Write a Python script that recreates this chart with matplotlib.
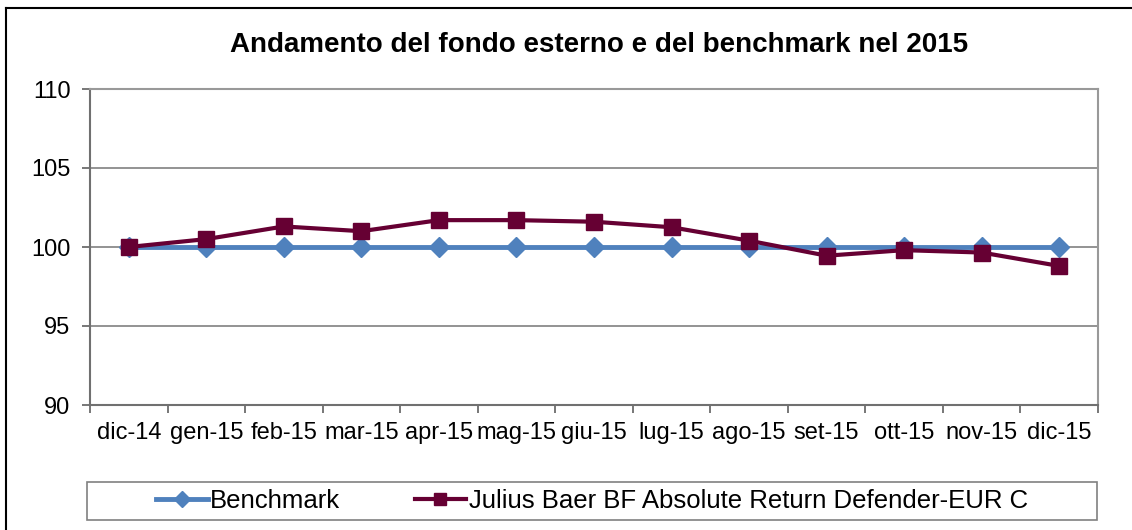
import numpy as np
import matplotlib.pyplot as plt
from matplotlib.lines import Line2D
from matplotlib.patches import Rectangle

plt.rcParams['font.family'] = ['Liberation Sans', 'DejaVu Sans']

months = ['dic-14', 'gen-15', 'feb-15', 'mar-15', 'apr-15', 'mag-15', 'giu-15',
          'lug-15', 'ago-15', 'set-15', 'ott-15', 'nov-15', 'dic-15']
benchmark = [100, 100, 100, 100, 100, 100, 100, 100, 100, 100, 100, 100, 100]
fondo = [100, 100.5, 101.3, 101.0, 101.7, 101.7, 101.6, 101.25, 100.4,
         99.45, 99.8, 99.65, 98.8]

W, H = 1132, 530
fig = plt.figure(figsize=(W / 100, H / 100), dpi=100)
ax = fig.add_axes([90 / W, 1 - 405 / H, (1098 - 90) / W, (405 - 89) / H])

x = np.arange(len(months))
ax.plot(x, benchmark, color='#4F81BD', lw=3.5, marker='D', ms=10,
        label='Benchmark', zorder=3)
ax.plot(x, fondo, color='#660033', lw=3, marker='s', ms=11,
        label='Julius Baer BF Absolute Return Defender-EUR C', zorder=4)

ax.set_xlim(-0.5, len(months) - 0.5)
ax.set_ylim(90, 110)
ax.set_yticks([90, 95, 100, 105, 110])
ax.set_xticks(x)
ax.set_xticklabels(months)
ax.set_xticks(np.arange(len(months) + 1) - 0.5, minor=True)
ax.tick_params(axis='x', which='major', length=0, labelsize=17, pad=12)
ax.tick_params(axis='x', which='minor', length=6, width=1.2, color='#606060', direction='out')
ax.tick_params(axis='y', length=6, width=1.2, color='#606060', labelsize=17, pad=8)
ax.yaxis.grid(True, color='#808080', lw=1.2)
ax.set_axisbelow(True)
for s in ['top', 'right']:
    ax.spines[s].set_color('#999999')
    ax.spines[s].set_linewidth(1.5)
for s in ['left', 'bottom']:
    ax.spines[s].set_color('#707070')
    ax.spines[s].set_linewidth(1.5)

fig.text(599 / W, 1 - 45 / H, 'Andamento del fondo esterno e del benchmark nel 2015',
         ha='center', va='center', fontsize=20, fontweight='bold')

# legend box
fig.add_artist(Rectangle((87 / W, 1 - 520 / H), (1097 - 87) / W, 38 / H,
                         transform=fig.transFigure, fill=False,
                         edgecolor='#808080', lw=1.2))
leg = fig.legend(loc='center', bbox_to_anchor=(592 / W, 1 - 501 / H), ncol=2,
                 fontsize=18.5, frameon=False, borderpad=0.2, columnspacing=2.9,
                 handlelength=2.0, handletextpad=0.1, markerscale=0.8)

# outer chart frame (cut at right and bottom)
fig.add_artist(Line2D([6 / W, 6 / W], [0, 1 - 8 / H], color='black', lw=1.5))
fig.add_artist(Line2D([6 / W, 1], [1 - 8 / H, 1 - 8 / H], color='black', lw=1.5))

fig.savefig('out.png', dpi=100)
